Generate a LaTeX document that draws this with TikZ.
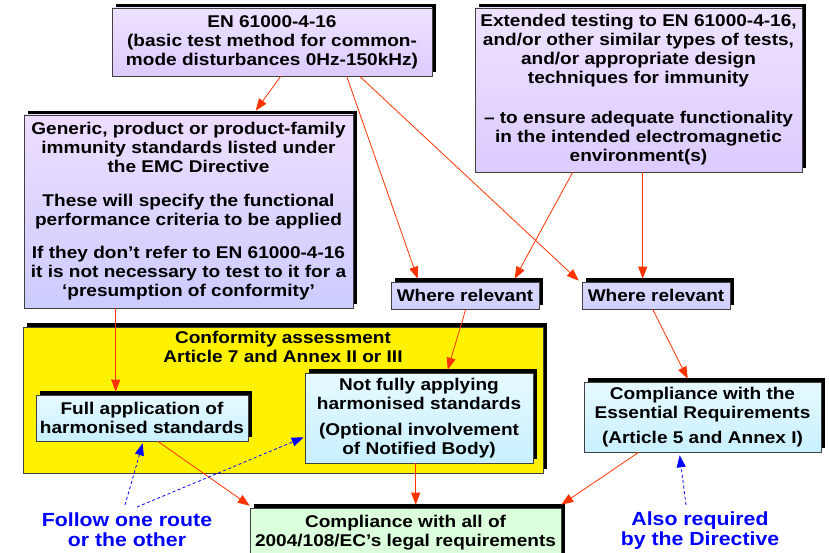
\documentclass[tikz,border=0pt]{standalone}
\usepackage{fontspec}
\setmainfont{Liberation Sans}[FakeStretch=1.12]
\usetikzlibrary{arrows.meta,shadows,calc}
\definecolor{arr}{HTML}{FF3300}
\definecolor{lavT}{HTML}{EEE2FF}
\definecolor{lavB}{HTML}{DCCBFF}
\definecolor{pinkT}{HTML}{EEDDFF}
\definecolor{bluB}{HTML}{CCCCFF}
\definecolor{wr}{HTML}{D0D0FF}
\definecolor{cyT}{HTML}{E6FAFF}
\definecolor{cyB}{HTML}{C8F0FF}
\definecolor{grn}{HTML}{DCFFDC}
\begin{document}
\begin{tikzpicture}[x=1pt,y=-1pt,
  box/.style={draw=black!75, line width=0.6pt, inner sep=0pt, align=center,
    font=\fontsize{17}{19}\selectfont\bfseries,
    drop shadow={shadow xshift=3.5pt, shadow yshift=4pt, fill=black, opacity=1}},
  rarr/.style={draw=arr, line width=0.8pt, -{Triangle[length=12pt,width=9pt,fill=arr]}},
  barr/.style={draw=blue, line width=0.8pt, dash pattern=on 3pt off 2.5pt, -{Triangle[length=12pt,width=9pt,fill=blue]}},
  btext/.style={text=blue, align=center, font=\fontsize{19}{20.5}\selectfont\bfseries}
]
\useasboundingbox (0,0) rectangle (829,553);

% top boxes
\node[box, top color=lavT, bottom color=lavB, minimum width=320pt, minimum height=68pt] (b1) at (272,42)
  {EN 61000-4-16\\(basic test method for common-\\mode disturbances 0Hz-150kHz)};
\node[box, top color=pinkT, bottom color=bluB, minimum width=329pt, minimum height=193pt] (b2) at (188.5,211.5)
  {Generic, product or product-family\\immunity standards listed under\\the EMC Directive\\[15pt]
   These will specify the functional\\performance criteria to be applied\\[14pt]
   If they don’t refer to EN 61000-4-16\\it is not necessary to test to it for a\\‘presumption of conformity’};
\node[box, top color=lavT, bottom color=lavB, minimum width=327pt, minimum height=164pt] (b3) at (638.5,90)
  {Extended testing to EN 61000-4-16,\\and/or other similar types of tests,\\and/or appropriate design\\techniques for immunity\\[21pt]
   – to ensure adequate functionality\\in the intended electromagnetic\\environment(s)};

% where relevant
\node[box, top color=wr!80!white, bottom color=wr, minimum width=148pt, minimum height=27pt] (w1) at (465,295.5) {Where relevant};
\node[box, top color=wr!80!white, bottom color=wr, minimum width=148pt, minimum height=27pt] (w2) at (656,295.5) {Where relevant};

% conformity assessment
\node[box, fill=yellow, minimum width=520pt, minimum height=146pt] (yel) at (283,400) {};
\node[align=center, font=\fontsize{17}{19}\selectfont\bfseries] (ytitle) at (283,347)
  {Conformity assessment\\Article 7 and Annex II or III};
\node[box, top color=cyT, bottom color=cyB, minimum width=212pt, minimum height=46pt] (full) at (142,418)
  {Full application of\\harmonised standards};
\node[box, top color=cyT, bottom color=cyB, minimum width=228pt, minimum height=90pt] (notf) at (419,418)
  {Not fully applying\\harmonised standards\\[7pt](Optional involvement\\of Notified Body)};

\node[box, top color=cyT, bottom color=cyB, minimum width=237pt, minimum height=70pt] (ess) at (702.5,417)
  {Compliance with the\\Essential Requirements\\[6pt](Article 5 and Annex I)};

\node[box, fill=grn, minimum width=311pt, minimum height=50pt] (all) at (405.5,533)
  {Compliance with all of\\2004/108/EC’s legal requirements};

% blue texts
\node[btext] (follow) at (127,529.5) {Follow one route\\or the other};
\node[btext] (also) at (700,530.5) {Also required\\by the Directive};
\coordinate (f1) at (125,505);
\coordinate (f2) at (137,507);
\coordinate (a1) at (686,505);

% red arrows
\draw[rarr] ($(b1.south west)+(169,0)$) -- ($(b2.north west)+(232,-4)$);
\draw[rarr] ($(b1.south west)+(235,0)$) -- ($(w1.north west)+(27,-3)$);
\draw[rarr] ($(b1.south west)+(248,0)$) -- ($(w2.north west)+(-3,-1)$);
\draw[rarr] ($(b3.south west)+(98,0)$) -- ($(w1.north west)+(124,-3)$);
\draw[rarr] ($(b3.south west)+(168,0)$) -- ($(w2.north west)+(61,-3)$);
\draw[rarr] ($(b2.south west)+(92,0)$) -- ($(full.north west)+(80,-3)$);
\draw[rarr] ($(w1.south west)+(75,0)$) -- ($(notf.north west)+(143,-3)$);
\draw[rarr] ($(w2.south west)+(71,0)$) -- ($(ess.north west)+(104,-3)$);
\draw[rarr] ($(full.south west)+(122,0)$) -- ($(all.north west)+(0,-2)$);
\draw[rarr] ($(notf.south west)+(111,0)$) -- ($(all.north west)+(166,-3)$);
\draw[rarr] ($(ess.south west)+(55,0)$) -- ($(all.north east)+(0,-3)$);

% blue dashed arrows
\draw[barr] (f1) -- ($(full.south west)+(107,2)$);
\draw[barr] (f2) -- ($(notf.south west)+(-1,-26)$);
\draw[barr] (a1) -- ($(ess.south west)+(96,3)$);
\end{tikzpicture}
\end{document}
